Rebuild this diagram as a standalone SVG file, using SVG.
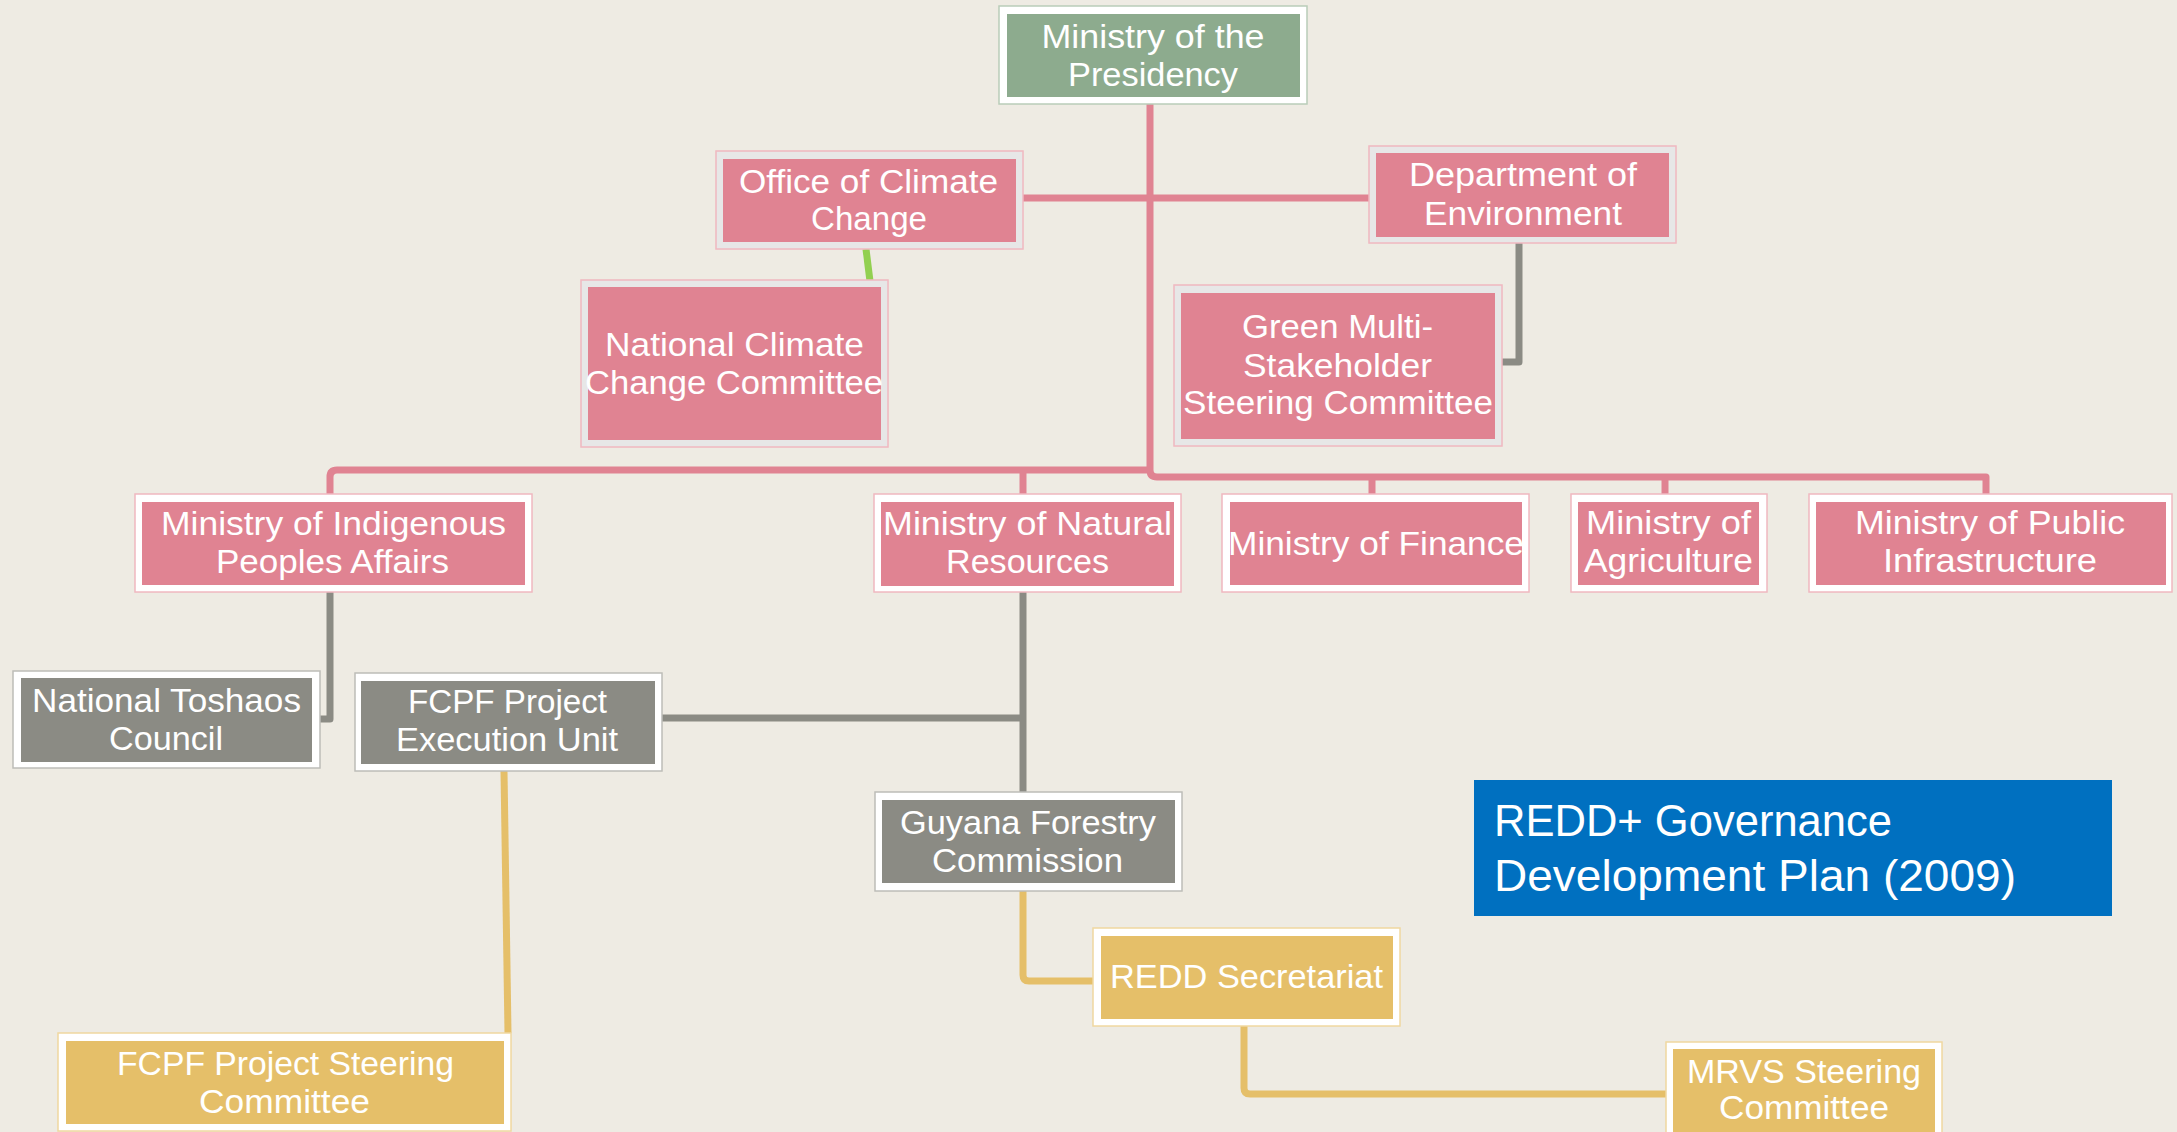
<svg xmlns="http://www.w3.org/2000/svg" width="2177" height="1132" viewBox="0 0 2177 1132">
<style>
.bg{fill:#EEEBE3}
.fw{fill:#FFFFFF}
.fg{fill:#E7E7E7}
.op{stroke:#F0B8C0;stroke-width:1.5}
.og{stroke:#B9CDB9;stroke-width:1.5}
.oy{stroke:#F0D8A0;stroke-width:1.5}
.ok{stroke:#BDBDB8;stroke-width:1.5}
.pink{fill:#E08392}
.green{fill:#8DAB8E}
.gray{fill:#8B8B84}
.yellow{fill:#E5BF69}
.t{font-family:"Liberation Sans",Arial,sans-serif;font-size:34px;fill:#FFFFFF;text-anchor:middle}
.tb{font-family:"Liberation Sans",Arial,sans-serif;font-size:44px;fill:#FFFFFF}
.c{fill:none;stroke-width:7;stroke-linejoin:round}
.cp{stroke:#E08392}
.cg{stroke:#8B8B84}
.cy{stroke:#E5BF69}
.cl{stroke:#92D050}
</style>
<rect class="bg" x="0" y="0" width="2177" height="1132"/>

<g id="connectors">
  <path class="c cp" d="M1150,104 V470 Q1150,477 1157,477 H1986 V494"/>
  <path class="c cp" d="M1372,477 V494 M1665,477 V494"/>
  <path class="c cp" d="M1150,470 H337 Q330,470 330,477 V494"/>
  <path class="c cp" d="M1023,470 V494"/>
  <path class="c cp" d="M1023,198 H1369"/>
  <path class="c cl" d="M866,249 L870,281"/>
  <path class="c cg" d="M1519,243 V362 H1502"/>
  <path class="c cg" d="M330,592 V719 H320"/>
  <path class="c cg" d="M1023,592 V792"/>
  <path class="c cg" d="M662,718 H1023"/>
  <path class="c cy" d="M504,771 L508,1033"/>
  <path class="c cy" d="M1023,891 V975 Q1023,981 1029,981 H1093"/>
  <path class="c cy" d="M1244,1026 V1088 Q1244,1094 1250,1094 H1666"/>
</g>

<g id="n-presidency">
  <rect class="fw og" x="999" y="6" width="308" height="98"/>
  <rect class="green" x="1007" y="14" width="293" height="83"/>
  <text class="t" x="1153" y="48" textLength="223" lengthAdjust="spacingAndGlyphs">Ministry of the</text>
  <text class="t" x="1153" y="86" textLength="170" lengthAdjust="spacingAndGlyphs">Presidency</text>
</g>

<g id="n-occ">
  <rect class="fg op" x="716" y="151" width="307" height="98"/>
  <rect class="pink" x="723" y="159" width="293" height="83"/>
  <text class="t" x="868.5" y="193" textLength="259" lengthAdjust="spacingAndGlyphs">Office of Climate</text>
  <text class="t" x="869" y="230" textLength="116" lengthAdjust="spacingAndGlyphs">Change</text>
</g>

<g id="n-doe">
  <rect class="fg op" x="1369" y="146" width="307" height="97"/>
  <rect class="pink" x="1376" y="153" width="293" height="84"/>
  <text class="t" x="1523" y="186" textLength="228" lengthAdjust="spacingAndGlyphs">Department of</text>
  <text class="t" x="1523" y="225" textLength="198" lengthAdjust="spacingAndGlyphs">Environment</text>
</g>

<g id="n-nccc">
  <rect class="fg op" x="581" y="280" width="307" height="167"/>
  <rect class="pink" x="588" y="287" width="293" height="153"/>
  <text class="t" x="734.5" y="356" textLength="259" lengthAdjust="spacingAndGlyphs">National Climate</text>
  <text class="t" x="734" y="394" textLength="298" lengthAdjust="spacingAndGlyphs">Change Committee</text>
</g>

<g id="n-gms">
  <rect class="fg op" x="1174" y="285" width="328" height="161"/>
  <rect class="pink" x="1181" y="293" width="314" height="146"/>
  <text class="t" x="1337.5" y="338" textLength="191" lengthAdjust="spacingAndGlyphs">Green Multi-</text>
  <text class="t" x="1337.5" y="377" textLength="189" lengthAdjust="spacingAndGlyphs">Stakeholder</text>
  <text class="t" x="1338" y="414" textLength="310" lengthAdjust="spacingAndGlyphs">Steering Committee</text>
</g>

<g id="n-mipa">
  <rect class="fw op" x="135" y="494" width="397" height="98"/>
  <rect class="pink" x="142" y="502" width="383" height="83"/>
  <text class="t" x="333.5" y="535" textLength="345" lengthAdjust="spacingAndGlyphs">Ministry of Indigenous</text>
  <text class="t" x="332.5" y="573" textLength="233" lengthAdjust="spacingAndGlyphs">Peoples Affairs</text>
</g>

<g id="n-mnr">
  <rect class="fw op" x="874" y="494" width="307" height="98"/>
  <rect class="pink" x="881" y="502" width="293" height="84"/>
  <text class="t" x="1027.5" y="535" textLength="289" lengthAdjust="spacingAndGlyphs">Ministry of Natural</text>
  <text class="t" x="1027.5" y="573" textLength="163" lengthAdjust="spacingAndGlyphs">Resources</text>
</g>

<g id="n-mof">
  <rect class="fw op" x="1222" y="494" width="307" height="98"/>
  <rect class="pink" x="1230" y="502" width="292" height="83"/>
  <text class="t" x="1376" y="555" textLength="296" lengthAdjust="spacingAndGlyphs">Ministry of Finance</text>
</g>

<g id="n-moa">
  <rect class="fw op" x="1571" y="494" width="196" height="98"/>
  <rect class="pink" x="1578" y="502" width="181" height="83"/>
  <text class="t" x="1668.5" y="534" textLength="165" lengthAdjust="spacingAndGlyphs">Ministry of</text>
  <text class="t" x="1668.5" y="572" textLength="169" lengthAdjust="spacingAndGlyphs">Agriculture</text>
</g>

<g id="n-mpi">
  <rect class="fw op" x="1809" y="494" width="363" height="98"/>
  <rect class="pink" x="1816" y="502" width="350" height="83"/>
  <text class="t" x="1990" y="534" textLength="270" lengthAdjust="spacingAndGlyphs">Ministry of Public</text>
  <text class="t" x="1990" y="572" textLength="214" lengthAdjust="spacingAndGlyphs">Infrastructure</text>
</g>

<g id="n-ntc">
  <rect class="fw ok" x="13" y="671" width="307" height="97"/>
  <rect class="gray" x="21" y="678" width="291" height="84"/>
  <text class="t" x="166.5" y="712" textLength="269" lengthAdjust="spacingAndGlyphs">National Toshaos</text>
  <text class="t" x="166" y="750" textLength="114" lengthAdjust="spacingAndGlyphs">Council</text>
</g>

<g id="n-peu">
  <rect class="fw ok" x="355" y="673" width="307" height="98"/>
  <rect class="gray" x="361" y="681" width="294" height="83"/>
  <text class="t" x="507.5" y="713" textLength="199" lengthAdjust="spacingAndGlyphs">FCPF Project</text>
  <text class="t" x="507" y="751" textLength="222" lengthAdjust="spacingAndGlyphs">Execution Unit</text>
</g>

<g id="n-gfc">
  <rect class="fw ok" x="875" y="792" width="307" height="99"/>
  <rect class="gray" x="882" y="800" width="293" height="83"/>
  <text class="t" x="1028" y="834" textLength="256" lengthAdjust="spacingAndGlyphs">Guyana Forestry</text>
  <text class="t" x="1027.5" y="872" textLength="191" lengthAdjust="spacingAndGlyphs">Commission</text>
</g>

<g id="n-psc">
  <rect class="fw oy" x="58" y="1033" width="453" height="98"/>
  <rect class="yellow" x="66" y="1041" width="438" height="83"/>
  <text class="t" x="285.5" y="1075" textLength="337" lengthAdjust="spacingAndGlyphs">FCPF Project Steering</text>
  <text class="t" x="284.5" y="1113" textLength="171" lengthAdjust="spacingAndGlyphs">Committee</text>
</g>

<g id="n-redd">
  <rect class="fw oy" x="1093" y="928" width="307" height="98"/>
  <rect class="yellow" x="1101" y="936" width="292" height="83"/>
  <text class="t" x="1246.5" y="988" textLength="273" lengthAdjust="spacingAndGlyphs">REDD Secretariat</text>
</g>

<g id="n-mrvs">
  <rect class="fw oy" x="1666" y="1042" width="276" height="98"/>
  <rect class="yellow" x="1673" y="1049" width="262" height="86"/>
  <text class="t" x="1804" y="1083" textLength="234" lengthAdjust="spacingAndGlyphs">MRVS Steering</text>
  <text class="t" x="1804" y="1119" textLength="170" lengthAdjust="spacingAndGlyphs">Committee</text>
</g>

<g id="n-title">
  <rect fill="#0070C0" x="1474" y="780" width="638" height="136"/>
  <text class="tb" x="1494" y="836" textLength="398" lengthAdjust="spacingAndGlyphs">REDD+ Governance</text>
  <text class="tb" x="1494" y="891" textLength="522" lengthAdjust="spacingAndGlyphs">Development Plan (2009)</text>
</g>
</svg>
